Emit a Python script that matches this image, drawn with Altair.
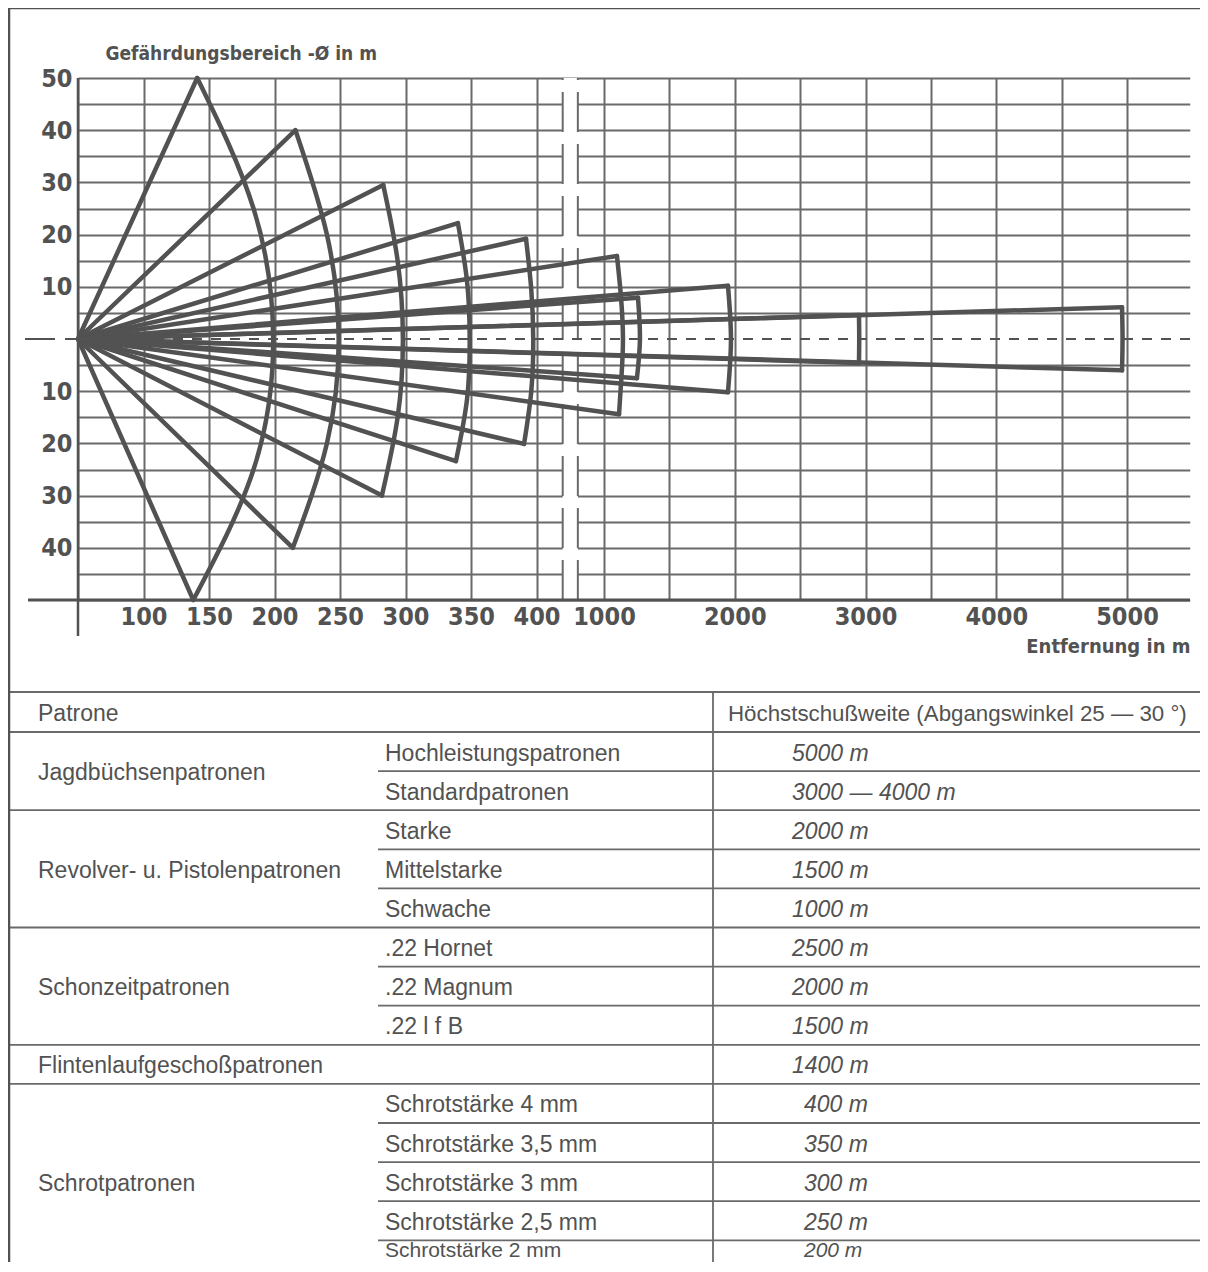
import json
import altair as alt
import pandas as pd

# ---------------- data ----------------
fan_names = ["200 m", "250 m", "300 m", "350 m", "400 m",
             "1000 m", "1500 m", "2000 m", "3000 m", "5000 m"]
apex_dist = 50      # common apex of all danger fans (distance axis)
apex_half = 0
# outer edge of every fan: distance (m) from top tip through centre to bottom tip
arc_dist = [
    [141, 184, 199, 184, 138],
    [216, 240, 249, 240, 214],
    [283, 294, 298, 294, 282],
    [340, 347, 349, 347, 338.5],
    [392, 396, 397.5, 396, 390.5],
    [1099, 1130, 1145, 1134, 1115],
    [1260, 1275, 1252],
    [1948, 1971, 1948],
    [2950, 2952, 2950],
    [4962, 4966, 4962],
]
# matching half-widths (m) of the danger zone
arc_half = [
    [50, 25, 0, -25, -50],
    [40, 20, 0, -20, -40],
    [29.5, 15, 0, -15, -30],
    [22.2, 11, 0, -11.5, -23.4],
    [19.2, 9.5, 0, -10, -20.1],
    [15.9, 8, 0, -7, -14.4],
    [7.9, 0, -7.5],
    [10.2, 0, -10.2],
    [4.6, 0, -4.6],
    [6.1, 0, -6.0],
]

x_label_values = [100, 150, 200, 250, 300, 350, 400, 1000, 2000, 3000, 4000, 5000]
x_grid_values = [50, 100, 150, 200, 250, 300, 350, 400,
                 1000, 1500, 2000, 2500, 3000, 3500, 4000, 4500, 5000]
y_grid_values = [-50, -45, -40, -35, -30, -25, -20, -15, -10, -5,
                 5, 10, 15, 20, 25, 30, 35, 40, 45, 50]
y_label_values = [-40, -30, -20, -10, 10, 20, 30, 40, 50]
y_title = "Gefährdungsbereich -Ø in m"
x_title = "Entfernung in m"

header_left = "Patrone"
header_right = "Höchstschußweite (Abgangswinkel 25 — 30 °)"
groups = ["Jagdbüchsenpatronen", "Revolver- u. Pistolenpatronen",
          "Schonzeitpatronen", "Flintenlaufgeschoßpatronen", "Schrotpatronen"]
group_rows = [2, 3, 3, 1, 5]
types = ["Hochleistungspatronen", "Standardpatronen",
         "Starke", "Mittelstarke", "Schwache",
         ".22 Hornet", ".22 Magnum", ".22 l f B",
         "",
         "Schrotstärke 4 mm", "Schrotstärke 3,5 mm", "Schrotstärke 3 mm",
         "Schrotstärke 2,5 mm", "Schrotstärke 2 mm"]
ranges = ["5000 m", "3000 — 4000 m",
          "2000 m", "1500 m", "1000 m",
          "2500 m", "2000 m", "1500 m",
          "1400 m",
          "400 m", "350 m", "300 m", "250 m", "200 m"]

# ---------------- data frames ----------------
arc_rows, edge_rows = [], []
for name, ds, hs in zip(fan_names, arc_dist, arc_half):
    for i, (d, h) in enumerate(zip(ds, hs)):
        arc_rows.append({"fan": name, "i": i, "d": d, "h": h})
    for d, h in ((ds[0], hs[0]), (ds[-1], hs[-1])):
        edge_rows.append({"fan": name, "d0": apex_dist, "h0": apex_half, "d1": d, "h1": h})
arcs = pd.DataFrame(arc_rows)
edges = pd.DataFrame(edge_rows)

# ---------------- layout ----------------
W, H = 1112, 522
break_lo, break_hi, x_end = 420, 800, 5480
left_ppm, right_ppm, x1000 = 1.31, 0.13075, 526
x_range = [0, (break_lo - apex_dist) * left_ppm,
           x1000 + (break_hi - 1000) * right_ppm,
           x1000 + (x_end - 1000) * right_ppm]

GREY = "#525252"
GRID = "#6a6a6a"
NARROW = "Liberation Sans Narrow, DejaVu Sans Condensed, sans-serif"
SANS = "Liberation Sans, Arial, sans-serif"

xs = alt.Scale(domain=[apex_dist, break_lo, break_hi, x_end], range=x_range,
               nice=False, zero=False)
ys = alt.Scale(domain=[-50, 50], nice=False, zero=False)

x_axis = alt.Axis(
    values=x_grid_values, format="d",
    labelExpr="indexof(%s, datum.value) >= 0 ? datum.label : ''" % json.dumps(x_label_values),
    grid=True, gridColor=GRID, gridWidth=2, gridOpacity=1,
    ticks=False, tickSize=0, domain=False,
    labelFont=NARROW, labelFontWeight="bold", labelFontSize=25, labelColor=GREY,
    labelPadding=4, labelOverlap=False, labelFlush=False,
    title=x_title, titleFont=NARROW, titleFontWeight="bold", titleFontSize=20,
    titleColor=GREY, titleAlign="right", titleBaseline="middle",
    titleX=W, titleY=46, titleAngle=0,
)
y_axis = alt.Axis(
    values=y_grid_values,
    labelExpr="indexof(%s, datum.value) >= 0 ? '' + abs(datum.value) : ''" % json.dumps(y_label_values),
    grid=True, gridColor=GRID, gridWidth=2, gridOpacity=1,
    ticks=False, tickSize=0, domain=False,
    labelFont=NARROW, labelFontWeight="bold", labelFontSize=25, labelColor=GREY,
    labelPadding=6, labelOverlap=False, labelFlush=False, labelBaseline="middle",
    title=y_title, titleFont=NARROW, titleFontWeight="bold", titleFontSize=19,
    titleColor=GREY, titleAlign="left", titleBaseline="middle",
    titleX=27, titleY=-25, titleAngle=0,
)


def X(f):
    return alt.X(f, type="quantitative", scale=xs, axis=x_axis)


def Y(f):
    return alt.Y(f, type="quantitative", scale=ys, axis=y_axis)


brk = pd.DataFrame({"lo": [break_lo], "hi": [break_hi], "ylo": [-50], "yhi": [50]})
break_rect = alt.Chart(brk).mark_rect(color="white").encode(
    x=X("lo"), x2="hi", y=Y("ylo"), y2="yhi")

brk_lines = pd.DataFrame({"b": [break_lo, break_hi], "ylo": [-50, -50], "yhi": [50, 50]})
break_rules = alt.Chart(brk_lines).mark_rule(
    color=GRID, strokeWidth=2, strokeDash=[40, 12]).encode(
    x=X("b"), y=Y("ylo"), y2="yhi")

edge_layer = alt.Chart(edges).mark_rule(
    color=GREY, strokeWidth=4.5, strokeCap="round").encode(
    x=X("d0"), y=Y("h0"), x2="d1", y2="h1")

arc_layer = alt.Chart(arcs).mark_line(
    color=GREY, strokeWidth=4.5, interpolate="natural", strokeCap="round").encode(
    x=X("d"), y=Y("h"), detail="fan:N", order="i:Q")

centre = pd.DataFrame({"c": [0]})
centre_in = alt.Chart(centre).mark_rule(
    color=GREY, strokeWidth=2, strokeDash=[10, 9]).encode(
    y=Y("c"), x=alt.value(0), x2=alt.value(W))
centre_out = alt.Chart(centre).mark_rule(
    color=GREY, strokeWidth=2, strokeDash=[30, 10]).encode(
    y=Y("c"), x=alt.value(-53), x2=alt.value(0))

base = pd.DataFrame({"c": [-50]})
base_rule = alt.Chart(base).mark_rule(color=GREY, strokeWidth=3).encode(
    y=Y("c"), x=alt.value(-50), x2=alt.value(W))

orig = pd.DataFrame({"c": [apex_dist]})
orig_rule = alt.Chart(orig).mark_rule(color=GREY, strokeWidth=2.5).encode(
    x=X("c"), y=alt.value(0), y2=alt.value(558))

plot = alt.layer(break_rect, break_rules, edge_layer, arc_layer,
                 centre_in, centre_out, base_rule, orig_rule)

# ---------------- table ----------------
n_rows = len(types)
row_h = 39.1
top0 = 654
header_top = -40 / row_h
ts = alt.Scale(domain=[0, n_rows], range=[top0, top0 + n_rows * row_h],
               nice=False, zero=False)


def TY(f):
    return alt.Y(f, type="quantitative", scale=ts, axis=None)


bounds = [0]
for n in group_rows:
    bounds.append(bounds[-1] + n)
full_pos = [header_top] + bounds[:-1]
part_pos = [p for p in range(1, n_rows) if p not in bounds]

LEFT, RIGHT = -69, 1130
COL2, COL3 = 300, 635

full_lines = alt.Chart(pd.DataFrame({"p": full_pos})).mark_rule(
    color=GRID, strokeWidth=1.8).encode(
    y=TY("p"), x=alt.value(LEFT), x2=alt.value(RIGHT))
part_lines = alt.Chart(pd.DataFrame({"p": part_pos})).mark_rule(
    color=GRID, strokeWidth=1.8).encode(
    y=TY("p"), x=alt.value(COL2), x2=alt.value(RIGHT))
col_line = alt.Chart(pd.DataFrame({"p": [header_top], "q": [n_rows]})).mark_rule(
    color=GRID, strokeWidth=1.8).encode(
    y=TY("p"), y2="q", x=alt.value(COL3))

frame = pd.DataFrame({"k": [0]})
frame_left = alt.Chart(frame).mark_rule(color=GREY, strokeWidth=2.5).encode(
    x=alt.value(LEFT), y=alt.value(-70), y2=alt.value(1194))
frame_top = alt.Chart(frame).mark_rule(color=GREY, strokeWidth=2.5).encode(
    y=alt.value(-70), x=alt.value(LEFT), x2=alt.value(RIGHT))

txt = dict(font=SANS, fontSize=23, color=GREY, align="left", baseline="middle", dy=2)
last_txt = dict(txt, fontSize=21)

head = pd.DataFrame({"t": [header_left, header_right], "p": [header_top / 2] * 2})
head_l = alt.Chart(head.iloc[[0]]).mark_text(**txt).encode(
    y=TY("p"), text="t:N", x=alt.value(-40))
head_txt = dict(txt, fontSize=22.3)
head_r = alt.Chart(head.iloc[[1]]).mark_text(**head_txt).encode(
    y=TY("p"), text="t:N", x=alt.value(650))

gdf = pd.DataFrame({"g": groups,
                    "p": [b + n / 2 for b, n in zip(bounds[:-1], group_rows)]})
group_text = alt.Chart(gdf).mark_text(**txt).encode(
    y=TY("p"), text="g:N", x=alt.value(-40))

# the last row is cut by the page edge: its text sits a little higher in the row
text_pos = [i + 0.5 for i in range(n_rows)]
text_pos[-1] = n_rows - 1 + 0.22
rdf = pd.DataFrame({"i": list(range(n_rows)), "t": types, "r": ranges, "p": text_pos})
last = n_rows - 1
body = alt.Chart(rdf).transform_filter("datum.i < %d" % last)
tail = alt.Chart(rdf).transform_filter("datum.i == %d" % last)

type_text = body.mark_text(**txt).encode(
    y=TY("p"), text="t:N", x=alt.value(307))
range_long = body.transform_filter("length(datum.r) != 5").mark_text(
    fontStyle="italic", **txt).encode(y=TY("p"), text="r:N", x=alt.value(714))
range_short = body.transform_filter("length(datum.r) == 5").mark_text(
    fontStyle="italic", dx=12, **txt).encode(y=TY("p"), text="r:N", x=alt.value(714))
last_type = tail.mark_text(**last_txt).encode(
    y=TY("p"), text="t:N", x=alt.value(307))
last_range = tail.mark_text(fontStyle="italic", dx=12, **last_txt).encode(
    y=TY("p"), text="r:N", x=alt.value(714))

table = alt.layer(full_lines, part_lines, col_line, frame_left, frame_top,
                  head_l, head_r, group_text, type_text, range_long, range_short,
                  last_type, last_range)

chart = alt.layer(plot, table).resolve_scale(y="independent").properties(
    width=W, height=H,
    autosize=alt.AutoSizeParams(type="none"),
    padding={"left": 70, "top": 70, "right": 10, "bottom": 662},
    background="white",
).configure_view(stroke=None)

chart.save("out.html", embed_options={"renderer": "svg", "actions": False})
